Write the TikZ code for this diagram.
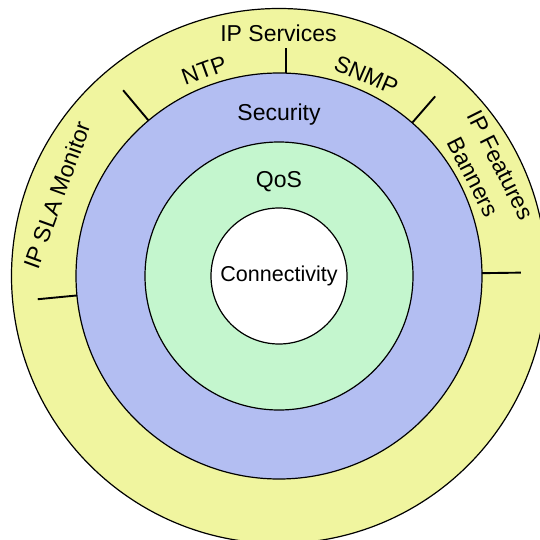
\documentclass[tikz,border=0pt]{standalone}
\usepackage{fontspec}
\setmainfont{Liberation Sans}
\definecolor{ringyellow}{RGB}{240,245,159}
\definecolor{ringblue}{RGB}{179,190,242}
\definecolor{ringgreen}{RGB}{196,246,206}
\tikzset{
  ring/.style={circle, draw=black, line width=1.2pt, inner sep=0pt, outer sep=0pt},
  lbl/.style={inner sep=0pt, anchor=base, font=\fontsize{23}{27}\selectfont},
  divider/.style={line width=1.9pt, line cap=butt}
}
\begin{document}
\begin{tikzpicture}[x=1pt, y=1pt]
  \useasboundingbox (0,0) rectangle (540,539);
  \clip (0,0) rectangle (540,539);
  \fill[white] (0,0) rectangle (540,539);
  \coordinate (C) at (279,263);

  % concentric layers
  \node[ring, fill=ringyellow, minimum size=535] (services) at (C) {};
  \node[ring, fill=ringblue,   minimum size=406] (security) at (C) {};
  \node[ring, fill=ringgreen,  minimum size=268] (qos) at (C) {};
  \node[ring, fill=white,      minimum size=136] (core) at (C) {};

  % sector dividers in the outer ring
  \begin{scope}[shift={(C)}]
    \draw[divider] (0.8:203) -- (0.8:242);
    \draw[divider] (49:203) -- (49:238);
    \draw[divider] (7,202.9) -- (7,228);
    \draw[divider] (130:203) -- (130:242.5);
    \draw[divider] (185.5:203) -- (185.5:242.4);

    % outer ring labels
    \node[lbl] (tipsvc) at (-0.5,234.3) {IP Services};
    \node[lbl, rotate=20] (tntp) at (110:211) {NTP};
    \node[lbl, rotate=-23.5] (tsnmp) at (66.5:211) {SNMP};
    \node[lbl, rotate=-63.4] (tipfeat) at (26.6:240) {IP Features};
    \node[lbl, rotate=-63] (tbanners) at (27:210) {Banners};
    \node[lbl, rotate=70] (tipsla) at (160:228) {IP SLA Monitor};

    % inner layer labels
    \node[lbl] (tsec) at (0,155) {Security};
    \node[lbl] (tqos) at (0,88.7) {QoS};
    \node[lbl, font=\fontsize{21.5}{25}\selectfont] (tconn) at (0,-5.7) {Connectivity};
  \end{scope}
\end{tikzpicture}
\end{document}
